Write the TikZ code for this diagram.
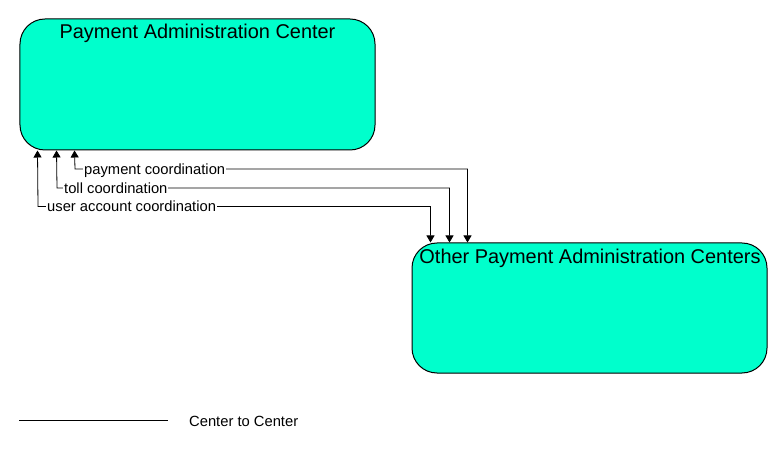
\documentclass[tikz,border=0pt]{standalone}
\usepackage{fontspec}
\setmainfont{Liberation Sans}
\usetikzlibrary{arrows.meta,calc}
\definecolor{boxfill}{RGB}{0,255,204}
\begin{document}
\begin{tikzpicture}[x=1bp,y=-1bp,
  centerbox/.style={draw=black, line width=1bp, fill=boxfill, rounded corners=25bp, inner sep=0pt},
  titletext/.style={font=\fontsize{20}{24}\selectfont, inner sep=0pt, anchor=base},
  flowlabel/.style={font=\fontsize{14.8}{17}\selectfont, inner sep=1bp, fill=white, anchor=base west},
  flow/.style={draw=black, line width=0.8bp, {Triangle[width=8bp,length=7bp]}-{Triangle[width=8bp,length=7bp]}}
]
\useasboundingbox (0,0) rectangle (783,449);
% boxes
\node[centerbox, minimum width=355bp, minimum height=131bp] (pac) at (197.5,84.5) {};
\node[titletext] (pact) at (197.5,38.5) {Payment Administration Center};
\node[centerbox, minimum width=355bp, minimum height=130bp] (opac) at (589.5,308) {};
\node[titletext] (opact) at (590,263.5) {Other Payment Administration Centers};
% flows
\coordinate (c1) at (38,206.5);
\coordinate (c2) at (57,188);
\coordinate (c3) at (75,169);
\draw[flow] ([xshift=19bp]opac.north west) |- (c1) -- ([xshift=18bp]pac.south west);
\draw[flow] ([xshift=38bp]opac.north west) |- (c2) -- ([xshift=37bp]pac.south west);
\draw[flow] ([xshift=56bp]opac.north west) |- (c3) -- ([xshift=55bp]pac.south west);
\node[flowlabel] (l1) at (46,212) {user account coordination};
\node[flowlabel] (l2) at (63,193.5) {toll coordination};
\node[flowlabel] (l3) at (83,174.5) {payment coordination};
% legend
\coordinate (lg1) at (19,420.5);
\coordinate (lg2) at (168,420.5);
\draw[line width=1bp] (lg1) -- (lg2);
\node[flowlabel, fill=none] (lgt) at (188,426) {Center to Center};
\end{tikzpicture}
\end{document}
